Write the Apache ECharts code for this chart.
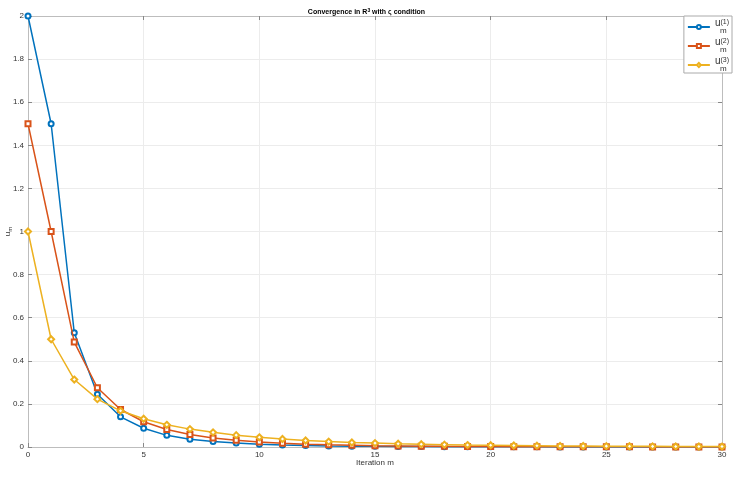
<html>
<head>
<title>chart</title>
<script src="https://cdn.jsdelivr.net/npm/echarts@6/dist/echarts.min.js"></script>
</head>
<body style="margin:0">
<div id="main" style="width:733px;height:478px;"></div>
<script>
var iterations = [];
for (var i = 0; i <= 30; i++) iterations.push(i);
var u1 = [2, 1.5, 0.53, 0.245, 0.14, 0.087, 0.054, 0.036, 0.025, 0.018, 0.013, 0.009, 0.007, 0.005, 0.004, 0.003, 0.0025, 0.002, 0.0015, 0.0012, 0.001, 0.0008, 0.0006, 0.0005, 0.0004, 0.0003, 0.0003, 0.0002, 0.0002, 0.0001, 0.0001];
var u2 = [1.5, 1.0, 0.487, 0.275, 0.174, 0.117, 0.081, 0.058, 0.042, 0.031, 0.023, 0.017, 0.013, 0.010, 0.008, 0.006, 0.005, 0.004, 0.003, 0.0025, 0.002, 0.0016, 0.0013, 0.001, 0.0008, 0.0007, 0.0006, 0.0005, 0.0004, 0.0003, 0.0003];
var u3 = [1.0, 0.5, 0.313, 0.222, 0.168, 0.131, 0.103, 0.083, 0.068, 0.055, 0.045, 0.037, 0.030, 0.025, 0.021, 0.018, 0.015, 0.013, 0.011, 0.009, 0.008, 0.007, 0.006, 0.005, 0.0045, 0.004, 0.0035, 0.003, 0.0027, 0.0024, 0.002];
var seriesNames = ['u1', 'u2', 'u3'];
var colors = ['#0072BD', '#D95319', '#EDB120'];
var symbols = ['emptyCircle', 'emptyRect', 'emptyDiamond'];

function pairs(arr) {
    return arr.map(function (v, i) { return [iterations[i], v]; });
}

var chart = echarts.init(document.getElementById('main'));
var font = 'Liberation Sans, Arial, sans-serif';
var axisCommon = {
    min: 0,
    axisLine: { show: true, onZero: false, lineStyle: { color: '#bdbdbd', width: 1 } },
    axisTick: { show: true, inside: true, length: 4, lineStyle: { color: '#888' } },
    splitLine: { show: false },
    axisLabel: { color: '#333', fontSize: 8, fontFamily: font }
};

var series = [u1, u2, u3].map(function (d, k) {
    return {
        name: seriesNames[k],
        type: 'line',
        data: pairs(d),
        symbol: symbols[k],
        symbolSize: k === 2 ? 6 : 5,
        showAllSymbol: true,
        lineStyle: { color: colors[k], width: 1.5 },
        itemStyle: { color: colors[k], borderColor: colors[k], borderWidth: 1.2 },
        emphasis: { disabled: true },
        z: 3 + k
    };
});

chart.setOption({
    animation: false,
    backgroundColor: '#fff',
    color: colors,
    title: {
        text: 'Convergence in R{sup|3} with ς condition',
        left: 'center',
        top: 3,
        textStyle: {
            fontSize: 7, fontWeight: 'bold', fontFamily: font, color: '#000',
            rich: { sup: { fontSize: 5, fontWeight: 'bold', verticalAlign: 'top', padding: [0, 0, 4, 0] } }
        }
    },
    grid: { left: 28, right: 11, top: 16, bottom: 31, containLabel: false, outerBoundsMode: 'none' },
    legend: {
        right: 1,
        top: 16,
        orient: 'vertical',
        backgroundColor: '#fff',
        borderColor: '#aaa',
        borderWidth: 1,
        borderRadius: 0,
        padding: [2, 3, 0, 3],
        itemGap: 2,
        itemWidth: 22,
        itemHeight: 5,
        data: seriesNames,
        formatter: function (name) {
            return '{b|u}{s|(' + name.slice(1) + ')}\n{m|m}';
        },
        textStyle: {
            fontFamily: font, color: '#333',
            rich: {
                b: { fontSize: 10, fontFamily: font, lineHeight: 8 },
                s: { fontSize: 7, fontFamily: font, verticalAlign: 'top', lineHeight: 8 },
                m: { fontSize: 8, fontFamily: font, lineHeight: 8, padding: [0, 0, 0, 5] }
            }
        }
    },
    xAxis: [
        Object.assign({}, axisCommon, {
            type: 'value', max: 30, interval: 5,
            name: 'Iteration m', nameLocation: 'middle', nameGap: 12, nameMoveOverlap: false,
            nameTextStyle: { fontSize: 8, fontFamily: font, color: '#333' },
            splitLine: { show: true, lineStyle: { color: '#ececec', width: 1 } },
            axisLabel: { color: '#333', fontSize: 8, fontFamily: font, margin: 4 }
        }),
        Object.assign({}, axisCommon, {
            type: 'value', max: 30, interval: 5, position: 'top',
            axisLabel: { show: false }
        })
    ],
    yAxis: [
        Object.assign({}, axisCommon, {
            type: 'value', max: 2, interval: 0.2,
            name: '{u|u}{s|m}', nameLocation: 'middle', nameGap: 15, nameMoveOverlap: false,
            nameTextStyle: {
                fontSize: 8, fontFamily: font, color: '#333',
                rich: { u: { fontSize: 8, fontFamily: font }, s: { fontSize: 6, fontFamily: font, verticalAlign: 'bottom', padding: [4, 0, 0, 0] } }
            },
            splitLine: { show: true, lineStyle: { color: '#ececec', width: 1 } },
            axisLabel: {
                color: '#333', fontSize: 8, fontFamily: font, margin: 4,
                formatter: function (v) { return v === 0 ? '0' : String(Math.round(v * 10) / 10); }
            }
        }),
        Object.assign({}, axisCommon, {
            type: 'value', max: 2, interval: 0.2, position: 'right',
            axisLabel: { show: false }
        })
    ],
    series: series
});
</script>
</body>
</html>
